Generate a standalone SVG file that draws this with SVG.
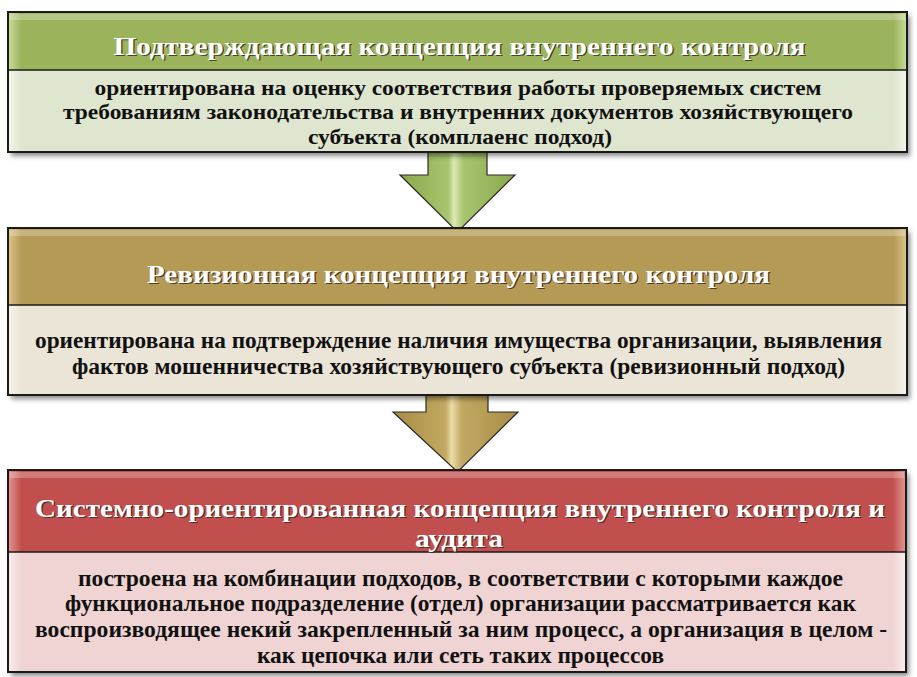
<svg xmlns="http://www.w3.org/2000/svg" width="917" height="677" viewBox="0 0 917 677">
<style>
.frame{fill:none;stroke:#1a1a1a;stroke-width:2}
.div{stroke:#1a1a1a;stroke-width:1.5}
.hd{font-family:"Liberation Serif","Times New Roman",serif;font-weight:bold;font-size:25px;fill:#ffffff;text-anchor:middle}
.hs{font-family:"Liberation Serif","Times New Roman",serif;font-weight:bold;font-size:25px;fill:#2a2a2a;text-anchor:middle;opacity:0.8}
.bd{font-family:"Liberation Serif","Times New Roman",serif;font-weight:bold;font-size:23px;fill:#111111;text-anchor:middle}
.bd1{font-size:22px}
.arrow{stroke:#2a2a2a;stroke-width:1.2}
.hl{fill:#ffffff;opacity:0.25}
</style>
<defs>
<filter id="sh" x="-5%" y="-10%" width="115%" height="130%">
<feDropShadow dx="3" dy="4" stdDeviation="2.5" flood-color="#000" flood-opacity="0.45"/>
</filter>
<linearGradient id="gHead" x1="0" x2="1" y1="0" y2="0">
<stop offset="0" stop-color="#c9dd9a"/><stop offset="0.015" stop-color="#9bb45c"/><stop offset="0.985" stop-color="#9bb45c"/><stop offset="1" stop-color="#c9dd9a"/>
</linearGradient>
<linearGradient id="gBody" x1="0" x2="1" y1="0" y2="0">
<stop offset="0" stop-color="#f2f6e8"/><stop offset="0.015" stop-color="#dfe6cf"/><stop offset="0.985" stop-color="#dfe6cf"/><stop offset="1" stop-color="#f2f6e8"/>
</linearGradient>
<linearGradient id="tHead" x1="0" x2="1" y1="0" y2="0">
<stop offset="0" stop-color="#dcc58a"/><stop offset="0.015" stop-color="#b59a56"/><stop offset="0.985" stop-color="#b59a56"/><stop offset="1" stop-color="#dcc58a"/>
</linearGradient>
<linearGradient id="tBody" x1="0" x2="1" y1="0" y2="0">
<stop offset="0" stop-color="#f8f4ec"/><stop offset="0.015" stop-color="#ebe5d8"/><stop offset="0.985" stop-color="#ebe5d8"/><stop offset="1" stop-color="#f8f4ec"/>
</linearGradient>
<linearGradient id="rHead" x1="0" x2="1" y1="0" y2="0">
<stop offset="0" stop-color="#e59592"/><stop offset="0.015" stop-color="#c0504d"/><stop offset="0.985" stop-color="#c0504d"/><stop offset="1" stop-color="#e59592"/>
</linearGradient>
<linearGradient id="rBody" x1="0" x2="1" y1="0" y2="0">
<stop offset="0" stop-color="#fbeeee"/><stop offset="0.015" stop-color="#efd4d3"/><stop offset="0.985" stop-color="#efd4d3"/><stop offset="1" stop-color="#fbeeee"/>
</linearGradient>
<linearGradient id="gArrow" x1="0" x2="1" y1="0" y2="0">
<stop offset="0" stop-color="#8aa84c"/><stop offset="0.42" stop-color="#a9c46e"/><stop offset="0.47" stop-color="#dbe9b4"/><stop offset="0.55" stop-color="#a9c46e"/><stop offset="1" stop-color="#8aa84c"/>
</linearGradient>
<linearGradient id="tArrow" x1="0" x2="1" y1="0" y2="0">
<stop offset="0" stop-color="#a88c45"/><stop offset="0.42" stop-color="#c2a862"/><stop offset="0.47" stop-color="#ecdca6"/><stop offset="0.55" stop-color="#c2a862"/><stop offset="1" stop-color="#a88c45"/>
</linearGradient>
</defs>
<rect width="917" height="677" fill="#ffffff"/>

<g id="connectors">
<path class="arrow" fill="url(#gArrow)" d="M428 152 L487 152 L487 175 L515 175 L457.5 232 L400 175 L428 175 Z"/>
<path class="arrow" fill="url(#tArrow)" d="M426 395 L488 395 L488 412 L518 412 L457.5 472 L393 412 L426 412 Z"/>
</g>

<g id="box1">
<g filter="url(#sh)">
<rect x="8" y="12" width="899" height="58" fill="url(#gHead)"/>
<rect x="8" y="70" width="899" height="82" fill="url(#gBody)"/>
</g>
<rect class="hl" x="10" y="14" width="895" height="6"/>
<rect class="frame" x="8" y="12" width="899" height="140"/>
<line class="div" x1="8" y1="70" x2="907" y2="70"/>
<text class="hs" x="461" y="56" textLength="692" lengthAdjust="spacingAndGlyphs">Подтверждающая концепция внутреннего контроля</text>
<text class="hd" x="459.5" y="54.5" textLength="692" lengthAdjust="spacingAndGlyphs">Подтверждающая концепция внутреннего контроля</text>
<text class="bd bd1" x="458" y="95" textLength="727" lengthAdjust="spacingAndGlyphs">ориентирована на оценку соответствия работы проверяемых систем</text>
<text class="bd bd1" x="458" y="119" textLength="790" lengthAdjust="spacingAndGlyphs">требованиям законодательства и внутренних документов хозяйствующего</text>
<text class="bd bd1" x="460" y="144" textLength="304" lengthAdjust="spacingAndGlyphs">субъекта (комплаенс подход)</text>
</g>

<g id="box2">
<g filter="url(#sh)">
<rect x="8" y="228" width="899" height="77" fill="url(#tHead)"/>
<rect x="8" y="305" width="899" height="90" fill="url(#tBody)"/>
</g>
<rect class="hl" x="10" y="230" width="895" height="6"/>
<rect class="frame" x="8" y="228" width="899" height="167"/>
<line class="div" x1="8" y1="305" x2="907" y2="305"/>
<text class="hs" x="460" y="284" textLength="623" lengthAdjust="spacingAndGlyphs">Ревизионная концепция внутреннего контроля</text>
<text class="hd" x="458.5" y="282.5" textLength="623" lengthAdjust="spacingAndGlyphs">Ревизионная концепция внутреннего контроля</text>
<text class="bd" x="458.5" y="348" textLength="847" lengthAdjust="spacingAndGlyphs">ориентирована на подтверждение наличия имущества организации, выявления</text>
<text class="bd" x="458.5" y="374" textLength="773" lengthAdjust="spacingAndGlyphs">фактов мошенничества хозяйствующего субъекта (ревизионный подход)</text>
</g>

<g id="box3">
<g filter="url(#sh)">
<rect x="8" y="470" width="898" height="82" fill="url(#rHead)"/>
<rect x="8" y="552" width="898" height="120" fill="url(#rBody)"/>
</g>
<rect class="hl" x="10" y="472" width="894" height="6"/>
<rect class="frame" x="8" y="470" width="898" height="202"/>
<line class="div" x1="8" y1="552" x2="906" y2="552"/>
<text class="hs" x="461.5" y="518" textLength="850" lengthAdjust="spacingAndGlyphs">Системно-ориентированная концепция внутреннего контроля и</text>
<text class="hd" x="460" y="516.5" textLength="850" lengthAdjust="spacingAndGlyphs">Системно-ориентированная концепция внутреннего контроля и</text>
<text class="hs" x="460.5" y="548" textLength="88" lengthAdjust="spacingAndGlyphs">аудита</text>
<text class="hd" x="459" y="546.5" textLength="88" lengthAdjust="spacingAndGlyphs">аудита</text>
<text class="bd" x="460.5" y="586" textLength="765" lengthAdjust="spacingAndGlyphs">построена на комбинации подходов, в соответствии с которыми каждое</text>
<text class="bd" x="460.5" y="611" textLength="791" lengthAdjust="spacingAndGlyphs">функциональное подразделение (отдел) организации рассматривается как</text>
<text class="bd" x="461" y="637" textLength="852" lengthAdjust="spacingAndGlyphs">воспроизводящее некий закрепленный за ним процесс, а организация в целом -</text>
<text class="bd" x="460.5" y="663" textLength="407" lengthAdjust="spacingAndGlyphs">как цепочка или сеть таких процессов</text>
</g>
</svg>
